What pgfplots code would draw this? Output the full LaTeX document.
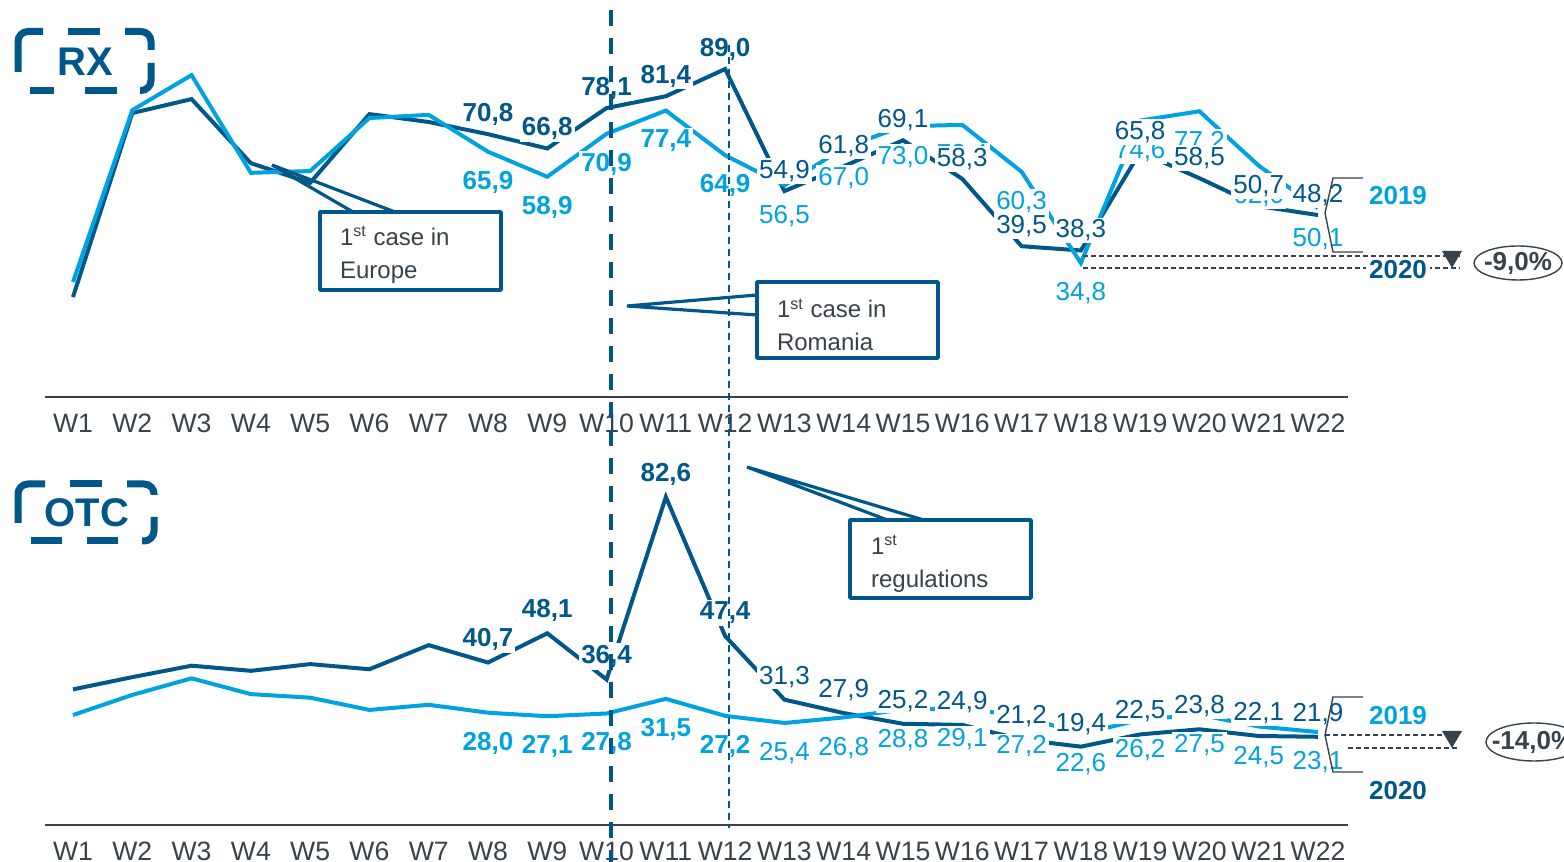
\documentclass[border=0pt]{standalone}
\usepackage{pgfplots}
\pgfplotsset{compat=1.18}
\usepackage{pgfplotstable}
\usepackage{fontspec}
\setmainfont{Liberation Sans}

\definecolor{dkblue}{HTML}{00578A}
\definecolor{ltblue}{HTML}{00A3E0}
\definecolor{slate}{HTML}{37424A}

% weekly sales index: light = 2019, dark = 2020
\pgfplotstableread{
w  rxl   rxd   otcl  otcd
1  29.5  25.3  27.4  33.9
2  77.5  76.7  32.5  37.0
3  87.3  80.6  36.7  39.9
4  60.0  62.7  32.7  38.6
5  60.5  57.2  31.8  40.3
6  75.3  76.4  28.7  39.0
7  76.2  74.2  30.0  45.1
8  65.9  70.8  28.0  40.7
9  58.9  66.8  27.1  48.1
10 70.9  78.1  27.8  36.4
11 77.4  81.4  31.5  82.6
12 64.9  89.0  27.2  47.4
13 56.5  54.9  25.4  31.3
14 67.0  61.8  26.8  27.9
15 73.0  69.1  28.8  25.2
16 73.4  58.3  29.1  24.9
17 60.3  39.5  27.2  21.2
18 34.8  38.3  22.6  19.4
19 74.6  65.8  26.2  22.5
20 77.2  58.5  27.5  23.8
21 62.0  50.7  24.5  22.1
22 50.1  48.2  23.1  21.9
}\weekly

\pgfplotsset{
  weekaxis/.style={
    scale only axis, width=651.5pt, anchor=south west,
    xmin=0.5278, xmax=22.506,
    axis x line*=bottom, axis y line=none,
    x axis line style={-, draw=slate, line width=1pt},
    xtick={1,...,22},
    xticklabels={W1,W2,W3,W4,W5,W6,W7,W8,W9,W10,W11,W12,W13,W14,W15,W16,W17,W18,W19,W20,W21,W22},
    xtick style={draw=none}, major tick length=0pt,
    xticklabel style={font=\fontsize{13.3}{15}\selectfont, text=slate, yshift=-5pt},
    clip=false,
    /pgf/number format/use comma,
    /pgf/number format/fixed,
    /pgf/number format/fixed zerofill,
    /pgf/number format/precision=1,
    /pgf/number format/assume math mode=true,
  },
  darkline/.style={dkblue, line width=2pt, mark=none},
  lightline/.style={ltblue, line width=2pt, mark=none},
  darklab/.style={draw=none, mark=none, nodes near coords, point meta=y,
    nodes near coords style={text=dkblue, fill=white, inner sep=1pt, anchor=center, yshift=#1}},
  lightlab/.style={draw=none, mark=none, nodes near coords, point meta=y,
    nodes near coords style={text=ltblue, fill=white, inner sep=1pt, anchor=center, yshift=-15.2pt}},
  boldlab/.style={restrict x to domain=8:12, nodes near coords style={font=\bfseries\fontsize{13}{15}\selectfont}},
  plainlab/.style={restrict x to domain=13:22, nodes near coords style={font=\fontsize{13}{15}\selectfont}},
}

\begin{document}
\begin{tikzpicture}
\path[use as bounding box] (0,0) rectangle (782pt,431pt);
\clip (0,0) rectangle (782pt,431pt);

% ---------- RX ----------
\begin{axis}[weekaxis, at={(22.5pt,232.5pt)}, height=188.5pt, ymin=-2.63, ymax=102.7]
  \addplot[darkline]  table[x=w, y=rxd] {\weekly};
  \addplot[lightline] table[x=w, y=rxl] {\weekly};
  \addplot[lightlab, boldlab]  table[x=w, y=rxl] {\weekly};
  \addplot[lightlab, plainlab] table[x=w, y=rxl] {\weekly};
  \addplot[darklab=10pt, boldlab]   table[x=w, y=rxd] {\weekly};
  \addplot[darklab=10pt, plainlab]  table[x=w, y=rxd] {\weekly};
\end{axis}

% ---------- OTC ----------
\begin{axis}[weekaxis, at={(22.5pt,18.5pt)}, height=187.5pt, ymin=-0.43, ymax=94.5]
  \addplot[darkline]  table[x=w, y=otcd] {\weekly};
  \addplot[lightline] table[x=w, y=otcl] {\weekly};
  \addplot[lightlab, boldlab]  table[x=w, y=otcl] {\weekly};
  \addplot[lightlab, plainlab] table[x=w, y=otcl] {\weekly};
  \addplot[darklab=11.5pt, boldlab]   table[x=w, y=otcd] {\weekly};
  \addplot[darklab=11.5pt, plainlab]  table[x=w, y=otcd] {\weekly};
\end{axis}

% annotations, in pixel-like units with y pointing down
\begin{scope}[x=0.5pt, y=-0.5pt, shift={(0pt,431pt)}]
  % section tags
  \begin{scope}[dkblue, line width=3.5pt, line cap=butt]
    \draw[rounded corners=5pt] (18,72)--(18,31.5)--(43,31.5);
    \draw (68,31.5)--(100,31.5);
    \draw[rounded corners=5pt] (125,31.5)--(151,31.5)--(151,50);
    \draw[rounded corners=5pt] (151,63)--(151,90.5)--(140,90.5);
    \draw (30,90.5)--(54,90.5);
    \draw (85,90.5)--(117,90.5);
    \node[font=\bfseries\fontsize{20}{22}\selectfont, text=dkblue] at (85,62) {RX};

    \draw[rounded corners=5pt] (18,523)--(18,484)--(45,484);
    \draw (70,484)--(102,484);
    \draw[rounded corners=5pt] (127,484)--(154,484)--(154,495);
    \draw[rounded corners=5pt] (154,517)--(154,541)--(142,541);
    \draw (31,541)--(62,541);
    \draw (87,541)--(118,541);
    \node[font=\bfseries\fontsize{20}{22}\selectfont, text=dkblue] at (87,513) {OTC};
  \end{scope}

  % callouts
  \begin{scope}[dkblue, line width=1.6pt, line join=bevel]
    \draw (353,212)--(272,165)--(395,212);
    \draw[fill=white] (320,212) rectangle (501,290);
    \draw (757,295)--(627,306)--(757,315);
    \draw[fill=white] (757,282) rectangle (938,358);
    \draw (890,521)--(747,467)--(927,521);
    \draw[fill=white] (850,520) rectangle (1031,598);
  \end{scope}
  \begin{scope}[every node/.style={anchor=west, align=left, text=slate, font=\fontsize{12}{16.5}\selectfont}]
    \node at (333,254.5) {1\textsuperscript{st} case in\\Europe};
    \node at (770,325) {1\textsuperscript{st} case in\\Romania};
    \node at (864,564) {1\textsuperscript{st}\\regulations};
  \end{scope}

  % key events
  \draw[dkblue, line width=2pt, dash pattern=on 8pt off 6pt] (611,10)--(611,862);
  \draw[dkblue, line width=1pt, dash pattern=on 3.5pt off 2.5pt] (729,45)--(729,828);

  % year keys and change
  \begin{scope}[slate, line width=0.7pt]
    \draw[dash pattern=on 2.5pt off 1.5pt] (1083,256)--(1460,256);
    \draw[dash pattern=on 2.5pt off 1.5pt] (1083,268)--(1460,268);
    \draw (1363,178)--(1333,178)--(1325,213)--(1333,252)--(1363,252);
    \fill (1442,251)--(1462,251)--(1452,268)--cycle;
    \draw (1518,263) ellipse [x radius=22pt, y radius=8.5pt];

    \draw[dash pattern=on 2.5pt off 1.5pt] (1325,735)--(1457,735);
    \draw[dash pattern=on 2.5pt off 1.5pt] (1348,748)--(1460,748);
    \draw (1363,697)--(1333,697)--(1325,735)--(1333,772)--(1363,772);
    \fill (1442,731)--(1462,731)--(1452,748)--cycle;
    \draw (1534,742) ellipse [x radius=24pt, y radius=9.5pt];
  \end{scope}
  \begin{scope}[every node/.style={font=\bfseries\fontsize{13}{15}\selectfont, inner sep=1.5pt}]
    \node[text=ltblue] at (1398,196) {2019};
    \node[text=dkblue, fill=white] at (1398,270) {2020};
    \node[text=slate] at (1518,263) {-9,0\%};
    \node[text=ltblue] at (1398,716) {2019};
    \node[text=dkblue, fill=white] at (1398,791) {2020};
    \node[text=slate] at (1533,742) {-14,0\%};
  \end{scope}
\end{scope}
\end{tikzpicture}
\end{document}
